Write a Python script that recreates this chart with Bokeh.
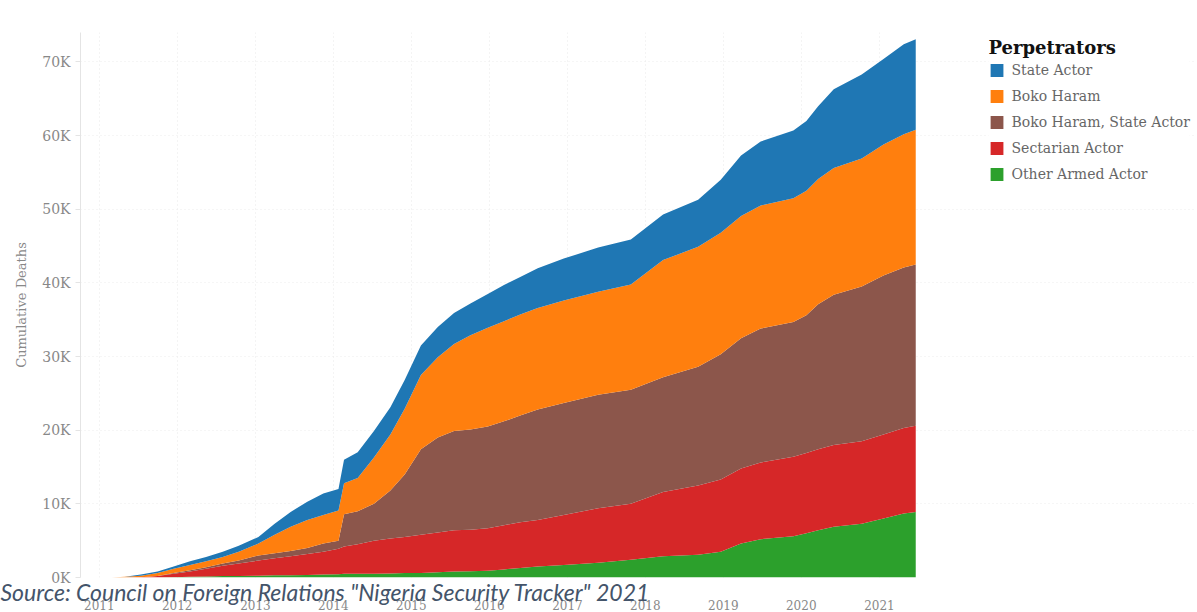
import pandas as pd
from bokeh.plotting import figure
from bokeh.models import (Legend, LegendItem, FixedTicker, DatetimeTickFormatter,
                          CustomJSTickFormatter, Title, Range1d, ColumnDataSource)
from bokeh.embed import file_html
from bokeh.resources import INLINE

# ---------------- data (cumulative deaths per perpetrator) ----------------
dates = ["2011-03-01", "2011-05-01", "2011-07-15", "2011-10-01", "2011-12-15",
         "2012-03-01", "2012-05-15", "2012-08-01", "2012-10-15", "2013-01-15",
         "2013-04-01", "2013-06-15", "2013-09-01", "2013-11-15", "2014-01-25",
         "2014-02-20", "2014-04-25", "2014-07-10", "2014-09-25", "2014-12-01",
         "2015-02-15", "2015-05-05", "2015-07-20", "2015-10-05", "2015-12-25",
         "2016-03-10", "2016-05-25", "2016-08-15", "2016-12-15", "2017-05-25",
         "2017-10-25", "2018-03-25", "2018-09-05", "2018-12-20", "2019-03-25",
         "2019-06-25", "2019-11-25", "2020-01-25", "2020-03-20", "2020-06-01",
         "2020-10-10", "2021-01-20", "2021-04-25", "2021-06-20"]

other_armed = [0, 0, 0, 0, 50, 100, 150, 200, 200, 250,
               300, 300, 350, 400, 450, 500, 500, 500, 550, 600,
               600, 700, 800, 850, 900, 1100, 1300, 1500, 1700, 2000,
               2400, 2900, 3100, 3500, 4600, 5200, 5600, 6000, 6400, 6900,
               7300, 8000, 8700, 8900]
sectarian = [0, 0, 50, 200, 450, 700, 1050, 1400, 1700, 2050,
             2300, 2600, 2850, 3100, 3450, 3700, 4000, 4500, 4750, 4900,
             5200, 5400, 5600, 5650, 5800, 6000, 6200, 6300, 6800, 7400,
             7600, 8700, 9400, 9800, 10200, 10400, 10800, 10900, 11000, 11100,
             11200, 11400, 11600, 11700]
bh_state = [0, 0, 0, 0, 100, 200, 200, 300, 400, 700,
            700, 700, 800, 1100, 1100, 4400, 4500, 5000, 6500, 8500,
            11600, 12900, 13500, 13600, 13800, 14100, 14500, 15000, 15200, 15400,
            15500, 15600, 16100, 17000, 17700, 18200, 18300, 18700, 19700, 20400,
            21000, 21600, 21800, 21900]
boko_haram = [0, 100, 200, 400, 600, 700, 800, 900, 1200, 1600,
              2500, 3300, 3800, 3900, 4100, 4200, 4500, 6300, 7600, 8900,
              10100, 10900, 11800, 12800, 13400, 13600, 13700, 13800, 13900, 14000,
              14300, 15900, 16300, 16500, 16600, 16700, 16800, 16900, 17000, 17200,
              17400, 17800, 18100, 18300]
state_actor = [0, 0, 150, 200, 300, 500, 600, 700, 800, 900,
               1500, 2000, 2500, 2900, 2900, 3200, 3500, 3600, 3700, 3900,
               4000, 4100, 4200, 4300, 4600, 4900, 5100, 5400, 5700, 6000,
               6100, 6200, 6400, 7200, 8200, 8700, 9200, 9500, 9900, 10700,
               11400, 11600, 12200, 12300]

years = list(range(2011, 2022))
y_ticks = [0, 10000, 20000, 30000, 40000, 50000, 60000, 70000]

# stack order bottom -> top
series_keys = ["other", "sect", "bhsa", "bh", "state"]
series_labels = {"other": "Other Armed Actor", "sect": "Sectarian Actor",
                 "bhsa": "Boko Haram, State Actor", "bh": "Boko Haram",
                 "state": "State Actor"}
series_colors = {"other": "#2ca02c", "sect": "#d62728", "bhsa": "#8c564b",
                 "bh": "#ff7f0e", "state": "#1f77b4"}

src = ColumnDataSource(dict(date=pd.to_datetime(dates), other=other_armed,
                            sect=sectarian, bhsa=bh_state, bh=boko_haram,
                            state=state_actor))

SERIF = "DejaVu Serif"

p = figure(width=1197, height=612, x_axis_type="datetime",
           output_backend="svg", toolbar_location=None,
           min_border_left=80, min_border_right=2,
           min_border_top=32, min_border_bottom=0)
p.x_range = Range1d(pd.Timestamp("2010-10-05"), pd.Timestamp("2025-01-20"))
p.y_range = Range1d(0, 74000)
p.outline_line_color = None
p.background_fill_color = "white"

renderers = p.varea_stack(stackers=series_keys, x="date", source=src,
                          color=[series_colors[k] for k in series_keys])

# axes
p.xaxis.ticker = FixedTicker(ticks=[pd.Timestamp(f"{y}-01-01").value // 10**6 for y in years])
p.xaxis.formatter = DatetimeTickFormatter(years="%Y", months="%Y", days="%Y",
                                          hours="%Y", minutes="%Y", seconds="%Y",
                                          milliseconds="%Y")
p.xaxis.axis_line_color = None
p.xaxis.major_tick_line_color = None
p.xaxis.minor_tick_line_color = None
p.xaxis.major_label_standoff = -14
p.xaxis.major_label_text_font = SERIF
p.xaxis.major_label_text_font_size = "12px"
p.xaxis.major_label_text_color = "#888888"

p.yaxis.ticker = FixedTicker(ticks=y_ticks)
p.yaxis.formatter = CustomJSTickFormatter(code="return (tick/1000).toFixed(0) + 'K';")
p.yaxis.axis_label = "Cumulative Deaths"
p.yaxis.axis_label_text_font = SERIF
p.yaxis.axis_label_text_font_style = "normal"
p.yaxis.axis_label_text_font_size = "13px"
p.yaxis.axis_label_text_color = "#888888"
p.yaxis.axis_label_standoff = 10
p.yaxis.axis_line_color = "#e4e4e4"
p.yaxis.major_tick_line_color = "#e4e4e4"
p.yaxis.major_tick_out = 5
p.yaxis.major_tick_in = 0
p.yaxis.minor_tick_line_color = None
p.yaxis.major_label_standoff = 5
p.yaxis.major_label_text_font = SERIF
p.yaxis.major_label_text_font_size = "14px"
p.yaxis.major_label_text_color = "#888888"

p.xgrid.grid_line_color = "#e8e8e8"
p.xgrid.grid_line_dash = "1 3"
p.ygrid.grid_line_color = "#ececec"
p.ygrid.grid_line_dash = "1 3"

# legend (top of stack first)
items = [LegendItem(label=series_labels[k], renderers=[renderers[series_keys.index(k)]])
         for k in ["state", "bh", "bhsa", "sect", "other"]]
legend = Legend(items=items, title="Perpetrators", location="top_right",
                padding=0, margin=5, spacing=10, glyph_width=16, glyph_height=16,
                label_height=16, label_standoff=7, title_standoff=4,
                background_fill_color="white", background_fill_alpha=1,
                border_line_alpha=0,
                label_text_font=SERIF, label_text_font_size="14px",
                label_text_color="#666666",
                title_text_font=SERIF, title_text_font_style="bold",
                title_text_font_size="18px", title_text_color="#111111")
p.add_layout(legend)

# source note: between the plot frame and the year labels
source_note = Title(text='Source: Council on Foreign Relations "Nigeria Security Tracker" 2021',
                    align="left", offset=-80, standoff=0, vertical_align="top",
                    text_font="Lato", text_font_style="italic", text_font_size="23px",
                    text_color="#44546a")
p.below = [source_note] + list(p.below)

open("out.html", "w").write(file_html(p, INLINE))
